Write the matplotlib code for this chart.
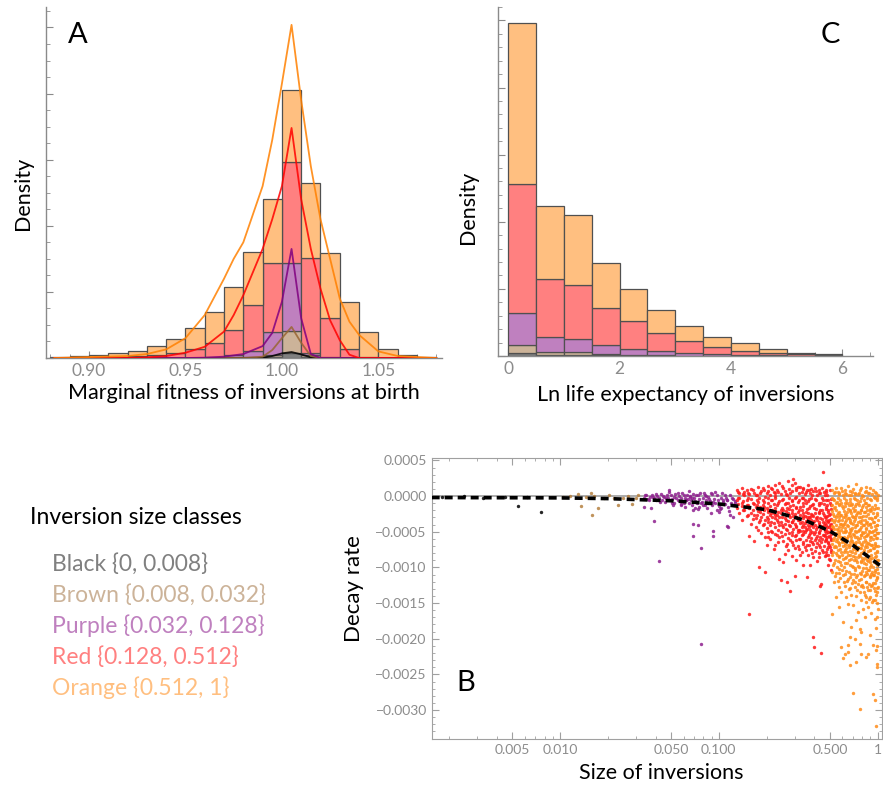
import numpy as np
import matplotlib
matplotlib.use("Agg")
import matplotlib.pyplot as plt
from matplotlib.ticker import (MultipleLocator, FixedLocator, FixedFormatter,
                               FuncFormatter, NullFormatter, LogLocator)

plt.rcParams['font.family'] = ['Lato', 'DejaVu Sans']

W, H = 883, 786

# size classes
class_names = ['Black', 'Brown', 'Purple', 'Red', 'Orange']
class_ranges = ['{0, 0.008}', '{0.008, 0.032}', '{0.032, 0.128}', '{0.128, 0.512}', '{0.512, 1}']
fill_cols = ['#808080', '#ccb399', '#bf80bf', '#ff8080', '#ffbf80']
line_cols = ['#000000', '#996633', '#800080', '#ff0000', '#ff8000']

# ---- panel A : marginal fitness at birth (segment heights per bin, stacked)
fit_edges = [0.88, 0.89, 0.90, 0.91, 0.92, 0.93, 0.94, 0.95, 0.96, 0.97, 0.98,
             0.99, 1.00, 1.01, 1.02, 1.03, 1.04, 1.05, 1.06, 1.07, 1.08]
fit_black = [0, 0, 0, 0, 0, 0, 0, 0, 0, 0, 0, 0.15, 0.75, 0.1, 0, 0, 0, 0, 0, 0]
fit_brown = [0, 0, 0, 0, 0, 0, 0, 0, 0, 0, 0.15, 0.35, 3.35, 0.3, 0.05, 0, 0, 0, 0, 0]
fit_purple = [0, 0, 0, 0, 0, 0, 0, 0.05, 0.1, 0.4, 0.95, 3.5, 10.3, 0.3, 0.05, 0, 0, 0, 0, 0]
fit_red = [0, 0.05, 0.1, 0.15, 0.25, 0.5, 0.7, 1.25, 2.2, 3.9, 6.9, 10.4, 15.3, 14.5, 6.0, 1.4, 0.1, 0, 0, 0]
fit_orange = [0.1, 0.25, 0.4, 0.55, 0.8, 1.3, 2.2, 3.2, 4.7, 6.4, 8.1, 9.7, 10.9, 11.3, 9.8, 7.1, 3.9, 1.4, 0.4, 0.15]

# smoothed densities drawn over panel A
dens_x = [0.882, 0.92, 0.93, 0.94, 0.95, 0.96, 0.97, 0.975, 0.98, 0.99, 0.995, 1.00,
          1.005, 1.01, 1.015, 1.02, 1.025, 1.03, 1.035, 1.04, 1.05, 1.06, 1.08]
dens_orange = [0, 0.3, 0.6, 1.3, 3.0, 6.5, 12.0, 15.0, 17.5, 26.0, 33.0, 41.5,
               50.4, 39.0, 29.0, 21.0, 15.0, 9.0, 5.5, 3.5, 1.0, 0.3, 0]
dens_red = [0, 0, 0.1, 0.3, 0.8, 1.7, 4.0, 6.5, 9.5, 16.5, 21.0, 26.0,
            34.8, 24.0, 16.5, 10.5, 5.7, 2.7, 0.5, 0, 0, 0, 0]
dens_purple = [0, 0, 0, 0, 0, 0.05, 0.2, 0.4, 0.6, 1.8, 3.8, 8.5,
               16.5, 6.0, 0.6, 0, 0, 0, 0, 0, 0, 0, 0]
dens_brown = [0, 0, 0, 0, 0, 0, 0, 0, 0, 0.2, 1.2, 3.0,
              4.7, 2.3, 0.3, 0, 0, 0, 0, 0, 0, 0, 0]
dens_black = [0, 0, 0, 0, 0, 0, 0, 0, 0, 0.05, 0.3, 0.7,
              0.9, 0.55, 0.1, 0, 0, 0, 0, 0, 0, 0, 0]

# ---- panel C : ln life expectancy
life_edges = [0, 0.5, 1.0, 1.5, 2.0, 2.5, 3.0, 3.5, 4.0, 4.5, 5.0, 5.5, 6.0]
life_black = [0.25, 0.1, 0.1, 0.05, 0.03, 0.02, 0, 0, 0, 0, 0, 0]
life_brown = [0.55, 0.2, 0.2, 0.1, 0.07, 0.03, 0.03, 0.02, 0, 0, 0, 0]
life_purple = [2.4, 1.1, 1.0, 0.65, 0.45, 0.35, 0.22, 0.13, 0.08, 0.04, 0.02, 0]
life_red = [9.6, 4.3, 4.0, 2.8, 2.05, 1.3, 0.9, 0.55, 0.32, 0.21, 0.13, 0.08]
life_orange = [12.0, 5.5, 5.2, 3.35, 2.4, 1.7, 1.05, 0.7, 0.55, 0.25, 0.1, 0.07]

# ---- panel B : decay rate vs size (decay in units of 1e-4)
black_size = [0.0018, 0.0025, 0.0033, 0.0045, 0.00542, 0.0062, 0.00757]
black_decay = [-0.15, -0.05, -0.2, -0.1, -1.36, -0.12, -2.2]

brown_size = [0.0105, 0.0116, 0.0130, 0.0135, 0.0145, 0.0157, 0.0160, 0.0165, 0.0174,
              0.0190, 0.0205, 0.0218, 0.0231, 0.0250, 0.0268, 0.0286, 0.0300, 0.0312]
brown_decay = [-0.1, 0.05, 0.24, -1.36, -0.15, 0.4, -2.7, 0.0, -1.7,
               -0.25, 0.1, -0.2, -1.26, -0.3, 0.05, -1.12, -0.2, 0.1]

purple_size = [0.0339, 0.0372, 0.0392, 0.0418, 0.0483, 0.0517, 0.061, 0.0685, 0.069, 0.0735,
               0.0692, 0.0771, 0.074, 0.0889, 0.0898, 0.092, 0.0925, 0.1, 0.104, 0.112,
               0.114, 0.117, 0.122, 0.0816, 0.0768,
               0.034, 0.035, 0.036, 0.037, 0.038, 0.039, 0.040, 0.041, 0.042, 0.043,
               0.044, 0.045, 0.046, 0.047, 0.048, 0.049, 0.050, 0.051, 0.052, 0.053,
               0.054, 0.055, 0.056, 0.057, 0.058, 0.059, 0.060, 0.061, 0.062, 0.063,
               0.064, 0.065, 0.066, 0.067, 0.068, 0.069, 0.070, 0.071, 0.072, 0.073,
               0.075, 0.076, 0.078, 0.079, 0.080, 0.082, 0.083, 0.085, 0.086, 0.088,
               0.090, 0.091, 0.093, 0.095, 0.097, 0.099, 0.101, 0.103, 0.105, 0.107,
               0.109, 0.111, 0.113, 0.115, 0.118, 0.120, 0.123, 0.125, 0.127,
               0.0345, 0.0365, 0.0385, 0.0405, 0.0425, 0.0445, 0.0465, 0.0485, 0.0505,
               0.0525, 0.0550, 0.0575, 0.0600, 0.0625, 0.0650, 0.0680, 0.0710, 0.0740,
               0.0770, 0.0810, 0.0840, 0.0870, 0.0940, 0.0980, 0.1060, 0.1100, 0.1160,
               0.1210, 0.1260, 0.0580, 0.0660, 0.0750, 0.0830, 0.0920, 0.1020, 0.1120]
purple_decay = [-1.5, -1.6, -3.5, -9.1, 0.9, -1.3, -1.5, -2.0, -3.9, -4.1,
                -5.6, -7.3, -1.8, 0.5, -2.4, -4.9, -5.6, -2.2, -1.7, -4.2,
                -4.3, -2.7, -2.9, -1.3, -20.8,
                -0.2, 0.1, -0.4, -0.1, 0.2, -0.3, -0.6, 0.0, -0.2, 0.3,
                -0.5, -0.1, -0.8, 0.2, -0.3, -0.6, 0.1, -0.4, -0.9, 0.3,
                -0.2, -0.5, 0.0, -0.7, -0.3, 0.4, -1.0, -0.2, -0.6, 0.2,
                -0.4, -0.9, 0.0, -0.5, -1.2, 0.3, -0.3, -0.7, 0.1, -1.0,
                -0.4, 0.5, -0.8, -0.2, -1.3, 0.2, -0.6, -1.0, -0.1, -0.7,
                0.3, -1.2, -0.4, -0.9, 0.1, -0.6, -1.4, -0.3, 0.4, -0.8,
                -1.1, -0.2, -0.6, -1.5, 0.2, -0.9, -0.4, -1.2, -0.7,
                0.2, -0.6, -0.1, 0.3, -0.8, 0.0, -0.3, 0.6, -0.9,
                -0.1, 0.4, -1.1, 0.1, -0.5, 0.7, -0.2, -1.6, 0.2,
                -0.9, 0.4, -1.7, -0.4, 0.6, -1.9, -0.5, 0.1, -2.1,
                -0.3, -1.0, -1.3, -0.1, -1.5, 0.0, -0.8, -1.8, -0.5]

# red and orange clouds: column sizes and the decays read in each column
red_cols = [0.131, 0.135, 0.140, 0.145, 0.150, 0.156, 0.160, 0.166, 0.171, 0.176, 0.179,
            0.185, 0.190, 0.195, 0.200, 0.205, 0.211, 0.217, 0.222, 0.227, 0.233, 0.240,
            0.247, 0.254, 0.260, 0.267, 0.273, 0.280, 0.287, 0.294, 0.300, 0.308, 0.316,
            0.325, 0.333, 0.341, 0.350, 0.357, 0.365, 0.373, 0.382, 0.393, 0.397, 0.405,
            0.415, 0.425, 0.436, 0.440, 0.453, 0.465, 0.475, 0.485, 0.494, 0.505,
            0.133, 0.143, 0.153, 0.163, 0.174, 0.182, 0.193, 0.203, 0.214, 0.225,
            0.237, 0.250, 0.264, 0.277, 0.291, 0.304, 0.320, 0.337, 0.354, 0.369,
            0.388, 0.410, 0.430, 0.447, 0.459, 0.470, 0.480, 0.490, 0.500, 0.509]
red_decay = [
    [0.8, -0.5, -1.6], [-0.2, 0.4, -2.4], [1.2, -0.9, -3.3, -1.4], [0.1, -1.9, 0.6],
    [-0.6, -2.8, 0.9, -1.2], [-16.5, 0.3, -1.7, -5.6], [-0.4, -2.3, 1.0, -3.9],
    [-6.3, -1.1, 0.5, -2.7], [-4.3, 0.2, -1.5, -3.1], [-0.8, 1.3, -2.1, -4.8],
    [-10.0, -0.3, -3.6], [0.7, -1.8, -2.9, -5.2], [-0.6, -2.5, 1.1, -4.0, -1.2],
    [-10.7, -5.7, -0.1, -3.3], [-2.9, 0.4, -1.6, -4.5, -6.8], [-5.8, -0.9, 1.4, -2.2, -3.7],
    [0.2, -1.4, -4.1, -2.7, -6.0], [-0.5, 1.0, -3.0, -5.1, -1.9], [-7.4, -2.4, 0.6, -3.8, -1.1],
    [-6.8, 0.0, -2.1, -4.4, 1.6], [-1.3, -3.4, -5.5, 0.8, -2.6], [-5.7, -0.7, -4.0, 1.9, -2.9, -8.8],
    [-11.8, -1.9, 0.3, -3.6, -5.0, -2.4], [-9.2, -0.4, -4.4, -2.0, 1.2, -6.3],
    [-8.1, -3.1, -1.1, 0.7, -5.3, -3.9], [-12.0, -2.6, 0.1, -4.8, -1.6, -6.7],
    [-0.9, -3.5, 2.1, -5.9, -2.3, -7.6], [-13.3, -1.4, -4.2, 0.5, -3.0, -6.1],
    [-2.0, 1.5, -5.4, -3.7, -0.5, -8.4], [2.4, -2.8, -4.6, -1.2, -6.8, -3.3],
    [1.8, -11.2, -0.2, -3.9, -5.6, -2.5, -7.3], [-1.7, -4.4, 0.9, -6.2, -3.0, -8.9],
    [-0.8, -3.4, -5.1, 1.3, -2.2, -7.0, -4.7], [1.3, -8.3, -1.5, -3.8, -6.0, -2.7, -4.9],
    [-0.3, -5.5, -2.0, 0.6, -3.6, -7.8, -4.3], [-1.0, -3.1, -6.4, 1.1, -4.9, -2.4, -9.6],
    [-2.8, -0.5, -5.0, -3.8, 0.3, -7.1, -4.3], [-11.3, -1.8, -4.6, -6.8, -2.9, 0.9, -3.5],
    [-0.7, -3.2, -5.7, 1.6, -4.1, -8.2, -2.3], [-9.7, -1.4, -4.8, -3.0, 0.4, -6.3, -5.2],
    [-2.5, -0.2, -4.0, -7.4, 1.0, -3.3, -5.9], [-19.8, -1.1, -4.4, -6.7, -2.8, 0.7, -3.7, -8.5],
    [-21.2, -3.5, -5.3, -1.6], [-0.4, -4.1, -2.3, -6.1, 1.2, -7.7, -5.0],
    [-2.9, -5.6, 0.2, -4.4, -9.1, -3.4, -6.6], [-1.3, -3.9, -6.2, 0.8, -5.0, -8.0, -2.2],
    [-12.6, -4.7, -2.0, -5.8, 0.5, -3.1, -7.2], [-22.0, -12.3, -4.2, -1.0, -6.5],
    [3.4, -3.6, -5.4, -0.6, -7.9, -4.5, -2.4], [-2.9, -6.3, 0.1, -4.9, -8.4, -3.8, -5.6],
    [-8.3, -4.1, -1.5, -6.0, -3.0, -5.2, 0.6], [-9.7, -5.0, -2.2, -7.1, 1.5, -3.6, -6.4],
    [1.5, -4.4, -6.8, -2.7, -5.6, -8.8, -3.3], [-3.9, -6.0, -1.2, -7.5, -4.8, -10.4, -5.3],
    [-0.3, 0.6, -1.1], [-0.7, 0.3, -2.0], [0.5, -1.3, -0.2, -2.6], [-0.9, 0.8, -1.9, -3.2],
    [0.1, -1.2, -2.6, -0.5], [-1.5, 0.4, -3.4, -2.2], [0.9, -0.8, -2.0, -3.9, -1.5],
    [-0.3, -1.9, -3.2, 0.7, -5.0], [1.1, -0.6, -2.3, -3.6, -4.9], [-0.2, -1.7, -3.1, 0.4, -5.3, -2.6],
    [0.6, -1.0, -2.2, -3.7, -4.8, -6.4], [-0.5, 1.4, -1.6, -2.9, -4.1, -5.6],
    [0.3, -0.9, -2.1, -3.4, -4.6, -7.0], [-0.2, 1.0, -1.8, -2.7, -4.0, -5.2],
    [0.7, -0.7, -2.3, -3.6, -5.0, -6.5], [-0.1, 1.2, -1.5, -2.9, -4.2, -5.5],
    [0.5, -0.6, -1.9, -3.3, -4.7, -6.0, -7.4], [-0.2, 1.0, -1.4, -2.8, -4.0, -5.3, -6.7],
    [0.6, -0.9, -2.2, -3.5, -4.8, -6.1, -7.6], [-0.4, 0.9, -1.7, -3.0, -4.3, -5.5, -6.9],
    [0.2, -1.2, -2.6, -3.9, -5.1, -6.4, -8.0], [-0.6, 0.7, -1.8, -3.1, -4.6, -5.9, -7.2],
    [0.4, -1.0, -2.4, -3.7, -5.2, -6.8, -8.6], [-0.3, 1.1, -1.9, -3.2, -4.4, -6.0, -7.5],
    [0.6, -1.1, -2.6, -4.0, -5.5, -7.0], [-0.5, -1.8, -3.3, -4.7, -6.2, -7.8, 0.9],
    [0.2, -1.3, -2.8, -4.3, -5.8, -7.4], [-0.6, -2.0, -3.5, -5.0, -6.6, -8.2],
    [0.8, -1.0, -2.5, -4.1, -5.7, -7.2, -9.0], [-0.4, -1.8, -3.2, -4.6, -6.2, -7.9]]

orange_cols = [0.515, 0.530, 0.545, 0.560, 0.575, 0.590, 0.605, 0.620, 0.635, 0.650,
               0.665, 0.680, 0.700, 0.715, 0.730, 0.750, 0.770, 0.790, 0.810, 0.830,
               0.850, 0.870, 0.890, 0.910, 0.935, 0.955, 0.975, 0.995,
               0.522, 0.537, 0.552, 0.567, 0.582, 0.597, 0.612, 0.627, 0.642, 0.657,
               0.672, 0.690, 0.707, 0.722, 0.740, 0.760, 0.780, 0.800, 0.820, 0.840,
               0.860, 0.880, 0.900, 0.922, 0.945, 0.965, 0.985, 1.000]
orange_decay = [
    [0.8, -1.2, -3.4, -5.0, -2.1, -6.7, -4.2, -8.3, -0.3, -10.6, -16.5],
    [-0.6, -2.8, 0.5, -4.6, -7.2, -3.7, -5.9, -9.4, -1.7, -12.1],
    [1.1, -1.9, -4.1, -6.3, -3.0, -8.0, -5.2, -0.9, -10.8, -14.1, -7.1],
    [-0.2, -3.5, -5.6, -2.4, -7.6, -4.7, 0.6, -9.1, -6.4, -11.9],
    [0.4, -2.2, -4.4, -6.9, -1.3, -8.6, -5.3, -3.3, -10.2, -15.5, -12.7],
    [-1.0, -3.9, 1.2, -6.0, -4.8, -7.9, -2.6, -9.7, -5.7, -21.2, -13.4],
    [0.2, -2.9, -5.1, -1.6, -7.0, -4.0, -8.8, -6.3, -11.1, -17.7, -22.7],
    [0.9, -1.4, -3.6, -6.6, -5.0, -2.5, -9.4, -7.6, -12.6, -22.1, -4.5],
    [-0.5, -2.6, -4.9, 0.3, -7.3, -6.0, -3.4, -10.5, -8.5, -14.2],
    [1.4, -1.8, -4.2, -6.8, -3.1, -8.2, -5.6, -11.6, -15.1, -21.9, -20.9],
    [-0.8, -3.3, -5.5, 0.7, -7.7, -4.6, -9.6, -2.1, -12.9, -19.8, -23.7, -6.4],
    [0.1, -2.4, -4.7, -6.2, -8.8, -3.8, -10.9, -5.8, -1.2, -18.4, -13.8],
    [1.0, -1.6, -3.9, -5.3, -7.4, -9.9, -6.6, -2.9, -11.7, -27.6, -15.3, -8.4],
    [-0.4, -3.0, -5.8, 0.5, -8.0, -4.4, -10.3, -6.9, -12.8, -20.0, -2.0],
    [1.7, -1.1, -4.0, -6.4, -9.0, -2.7, -7.6, -5.1, -11.4, -17.4, -23.3, -14.0],
    [0.3, -2.2, -4.9, -7.1, -3.6, -9.8, -6.0, -12.3, -1.0, -16.2, -8.5],
    [-0.7, -3.5, -5.9, 0.9, -8.4, -4.6, -10.8, -7.3, -2.4, -13.5, -20.7, -29.8, -18.6],
    [1.2, -1.9, -4.3, -6.7, -9.3, -3.0, -11.6, -5.5, -8.0, -14.6, -22.1, -19.1],
    [0.0, -2.8, -5.2, -7.8, -10.1, -4.1, -6.4, -12.7, -1.3, -15.8, -9.0],
    [-0.9, -3.3, -6.1, 0.6, -8.7, -5.0, -11.0, -7.2, -2.2, -13.9, -16.9],
    [1.3, -1.5, -4.5, -6.9, -9.5, -3.8, -12.0, -8.1, -5.6, -22.6, -14.8, -10.7],
    [0.4, -2.5, -5.3, -7.7, -10.4, -4.0, -13.1, -6.6, -1.2, -15.5, -9.1, -22.1],
    [1.2, -1.8, -3.9, -6.2, -8.8, -11.3, -5.1, -7.5, -14.2, -19.5, -10.0],
    [-0.6, -3.1, -5.8, -8.3, -4.4, -10.9, -6.9, -12.6, -1.9, -16.4, -9.6],
    [0.9, -2.3, -4.9, -7.3, -9.9, -6.0, -12.2, -3.6, -20.9, -27.8, -14.5, -11.0],
    [-0.3, -2.9, -5.5, -8.0, -10.6, -6.8, -13.3, -4.2, -28.6, -17.2, -9.2],
    [0.5, -1.7, -4.6, -7.0, -9.4, -11.8, -5.9, -8.4, -18.5, -21.6, -32.2, -13.9],
    [-0.2, -2.6, -5.2, -7.7, -10.2, -12.9, -4.0, -8.9, -17.0, -23.5, -24.0, -15.0, -11.4, -21.0],
    [-0.4, -2.5, -4.4, -6.1, -7.8, -9.7], [0.6, -1.5, -3.3, -5.4, -7.0, -8.9, -11.2],
    [-0.8, -2.7, -4.6, -6.0, -8.3, -9.9], [0.3, -1.1, -3.0, -5.1, -6.6, -8.4, -10.8],
    [-0.5, -2.6, -3.9, -5.8, -7.4, -9.3, -11.5], [0.7, -1.4, -3.3, -4.4, -6.5, -8.2, -10.3],
    [-0.3, -2.1, -3.9, -5.7, -7.9, -9.9, -12.1], [0.4, -1.0, -2.9, -4.9, -6.9, -8.7, -10.9],
    [-0.9, -2.2, -4.1, -5.9, -7.9, -9.4, -11.9], [0.2, -1.3, -3.1, -5.2, -7.1, -9.0, -10.6, -13.0],
    [-0.4, -2.0, -3.7, -5.0, -6.9, -8.2, -11.3], [0.6, -1.1, -2.8, -4.5, -6.3, -7.9, -9.8, -12.2],
    [-0.2, -2.1, -3.5, -5.4, -7.1, -8.9, -10.9], [0.3, -1.4, -3.2, -4.9, -6.7, -8.6, -10.1, -12.0],
    [-0.6, -2.3, -4.1, -5.8, -7.6, -9.3, -11.0, -13.2], [0.5, -1.2, -3.0, -4.7, -6.5, -8.2, -10.0, -11.8],
    [-0.3, -2.0, -3.8, -5.5, -7.3, -9.1, -10.9, -12.6], [0.2, -1.5, -3.3, -5.0, -6.8, -8.7, -10.5, -12.4],
    [-0.5, -2.2, -4.0, -5.8, -7.5, -9.4, -11.2, -13.5],
    [0.7, -1.0, -2.8, -4.6, -6.4, -8.3, -10.1, -12.0, -14.1],
    [-0.2, -1.9, -3.6, -5.4, -7.2, -9.0, -10.9, -12.8],
    [0.5, -1.3, -3.1, -4.9, -6.7, -8.6, -10.4, -12.3, -14.4],
    [-0.4, -2.1, -3.9, -5.7, -7.5, -9.3, -11.2, -13.1],
    [0.3, -1.5, -3.2, -5.0, -6.9, -8.7, -10.6, -12.5, -14.9],
    [-0.1, -1.8, -3.7, -5.5, -7.3, -9.2, -11.0, -12.9],
    [0.6, -1.2, -3.0, -4.8, -6.6, -8.5, -10.4, -12.2, -14.6],
    [-0.5, -2.3, -4.1, -5.9, -7.8, -9.6, -11.5, -13.4],
    [0.1, -1.6, -3.4, -5.2, -7.0, -8.9, -10.8, -12.7, -15.8]]

# fitted decline (dashed)
trend_size = [0.00156, 0.01, 0.02, 0.05, 0.1, 0.2, 0.35, 0.5, 0.7, 1.06]
trend_decay = [-0.2, -0.25, -0.35, -0.65, -1.1, -1.9, -3.4, -4.9, -6.9, -9.9]


def fx(px):
    return px / W


def fy(py):
    return 1 - py / H


def stacked_hist(ax, edges, segs):
    left = np.array(edges[:-1])
    width = np.diff(edges)
    bottom = np.zeros(len(left))
    for seg, col in zip(segs, fill_cols):
        ax.bar(left, seg, width=width, bottom=bottom, align='edge', color=col,
               edgecolor='#505050', linewidth=0.9, zorder=2)
        bottom += np.array(seg)


def axis_style(ax):
    for s in ['top', 'right']:
        ax.spines[s].set_visible(False)
    for s in ['left', 'bottom']:
        ax.spines[s].set_color('#8a8a8a')
        ax.spines[s].set_linewidth(1.0)
    ax.tick_params(which='both', direction='in', colors='#8a8a8a', labelcolor='#8c8c8c',
                   labelsize=12.5)
    ax.tick_params(which='major', length=5)
    ax.tick_params(which='minor', length=3)
    ax.yaxis.set_major_formatter(NullFormatter())


def decay_fmt(v, pos):
    if abs(v) < 1e-9:
        v = 0.0
    return f'{v:.4f}'.replace('-', '\u2212')


fig = plt.figure(figsize=(W / 100, H / 100), dpi=100)

# panel A
axA = fig.add_axes([fx(46), fy(358), fx(442) - fx(46), fy(7) - fy(358)])
stacked_hist(axA, fit_edges, [fit_black, fit_brown, fit_purple, fit_red, fit_orange])
for d, col in zip([dens_black, dens_brown, dens_purple, dens_red, dens_orange], line_cols):
    axA.plot(dens_x, d, color=col, lw=1.3, alpha=0.85, zorder=3)
axA.set_xlim(0.8777, 1.083)
axA.set_ylim(0, 53.1)
axis_style(axA)
axA.xaxis.set_major_locator(FixedLocator([0.90, 0.95, 1.00, 1.05]))
axA.xaxis.set_major_formatter(FixedFormatter(['0.90', '0.95', '1.00', '1.05']))
axA.xaxis.set_minor_locator(MultipleLocator(0.01))
axA.yaxis.set_major_locator(MultipleLocator(10))
axA.yaxis.set_minor_locator(MultipleLocator(2.5))

# panel C
axC = fig.add_axes([fx(498), fy(356), fx(873) - fx(498), fy(7) - fy(356)])
stacked_hist(axC, life_edges, [life_black, life_brown, life_purple, life_red, life_orange])
axC.set_xlim(-0.185, 6.55)
axC.set_ylim(0, 26)
axis_style(axC)
axC.xaxis.set_major_locator(FixedLocator([0, 2, 4, 6]))
axC.xaxis.set_minor_locator(MultipleLocator(0.5))
axC.yaxis.set_major_locator(MultipleLocator(5))
axC.yaxis.set_minor_locator(MultipleLocator(1))

# panel B
axB = fig.add_axes([fx(431.7), fy(739.3), fx(881.7) - fx(431.7), fy(458.3) - fy(739.3)])
axB.set_xscale('log')
axB.axhline(0, color='#a6a6a6', lw=1.3, zorder=1)
pt = dict(s=6, linewidths=0, alpha=0.85, zorder=2)
axB.scatter(black_size, np.array(black_decay) * 1e-4, color=line_cols[0], **pt)
axB.scatter(brown_size, np.array(brown_decay) * 1e-4, color='#b5803f', **pt)
axB.scatter(purple_size, np.array(purple_decay) * 1e-4, color='#8e1f8e', **pt)
red_x = np.concatenate([[c] * len(v) for c, v in zip(red_cols, red_decay)])
red_y = np.concatenate(red_decay) * 1e-4
axB.scatter(red_x, red_y, color='#ff1a1a', **pt)
or_x = np.concatenate([[c] * len(v) for c, v in zip(orange_cols, orange_decay)])
or_y = np.concatenate(orange_decay) * 1e-4
axB.scatter(or_x, or_y, color='#ff8c1a', **pt)
axB.plot(trend_size, np.array(trend_decay) * 1e-4, color='black', lw=2.6,
         ls=(0, (2.2, 1.4)), zorder=3)
axB.set_xlim(0.00156, 1.06)
axB.set_ylim(-0.00341, 0.00053)
for s in axB.spines.values():
    s.set_color('#a0a0a0')
axB.tick_params(which='both', direction='in', top=True, right=True, colors='#a0a0a0',
                labelcolor='#8c8c8c', labelsize=10)
axB.tick_params(which='major', length=5)
axB.tick_params(which='minor', length=2.5)
axB.xaxis.set_major_locator(FixedLocator([0.005, 0.01, 0.05, 0.1, 0.5, 1]))
axB.xaxis.set_major_formatter(FixedFormatter(['0.005', '0.010', '0.050', '0.100', '0.500', '1']))
axB.xaxis.set_minor_locator(LogLocator(base=10, subs=np.arange(2, 10)))
axB.xaxis.set_minor_formatter(NullFormatter())
axB.yaxis.set_major_locator(MultipleLocator(0.0005))
axB.yaxis.set_minor_locator(MultipleLocator(0.0001))
axB.yaxis.set_major_formatter(FuncFormatter(decay_fmt))

# texts
lab = dict(fontsize=15.5, color='black', ha='center', va='center')
fig.text(fx(244), fy(393), 'Marginal fitness of inversions at birth', **lab)
fig.text(fx(686), fy(395), 'Ln life expectancy of inversions', **lab)
fig.text(fx(661), fy(773), 'Size of inversions', **lab)
fig.text(fx(23), fy(193), 'Density', rotation=90, **lab)
fig.text(fx(468), fy(207), 'Density', rotation=90, **lab)
fig.text(fx(354), fy(589), 'Decay rate', rotation=90, fontsize=16, ha='center', va='center')
fig.text(fx(78), fy(35), 'A', fontsize=21, ha='center', va='center')
fig.text(fx(830), fy(35), 'C', fontsize=21, ha='center', va='center')
fig.text(fx(466), fy(683), 'B', fontsize=21, ha='center', va='center')

fig.text(fx(30), fy(518), 'Inversion size classes', fontsize=16.5, ha='left', va='center')
for i, (nm, rg, col) in enumerate(zip(class_names, class_ranges, fill_cols)):
    fig.text(fx(52), fy(564 + 31 * i), f'{nm} {rg}', fontsize=16.5, color=col,
             ha='left', va='center')

fig.savefig('out.png', dpi=100)
